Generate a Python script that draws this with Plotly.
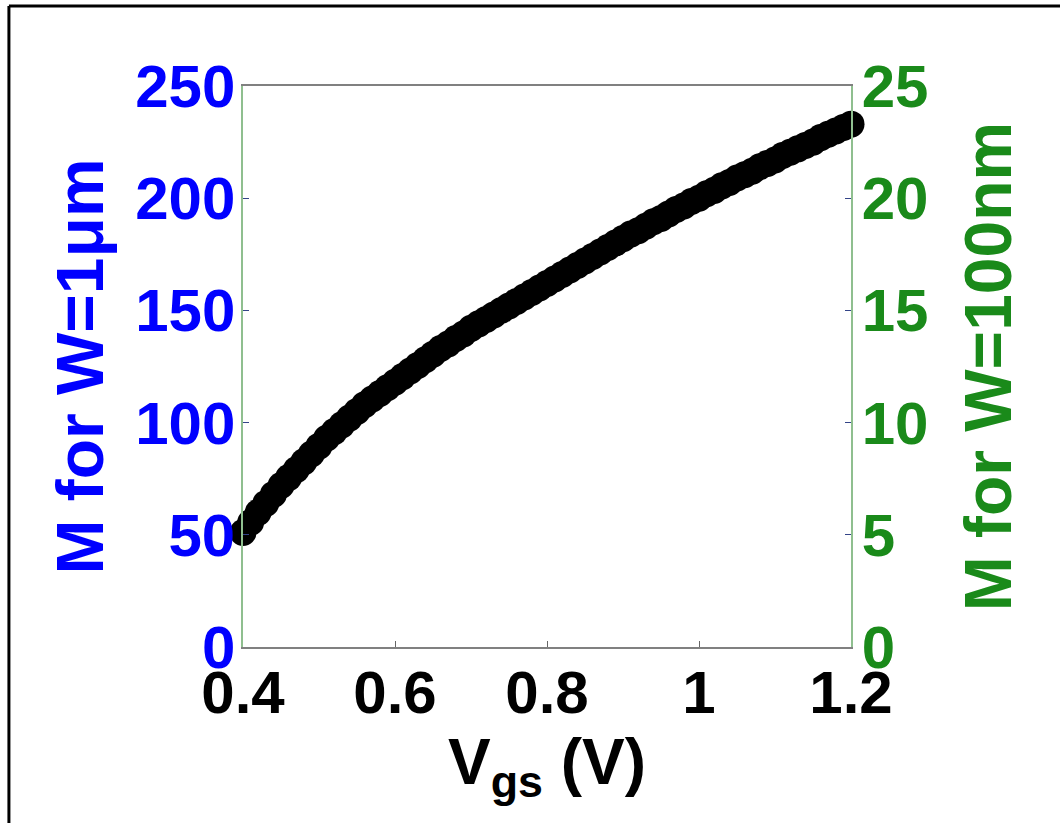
import plotly.graph_objects as go

# Gate voltage sweep (V), 0.40 ... 1.20 in 0.01 steps
vgs = [round(0.40 + 0.01 * i, 2) for i in range(81)]

# M for a 1 um wide device
m_1um = [51, 55.5, 60, 64, 68, 72, 75.5, 79, 82.5, 86,
         89.5, 93, 96, 99, 102, 105, 108, 110.5, 113, 115.5,
         118, 120.5, 123, 125.5, 128, 130.5, 133, 135, 137.5, 139.5,
         142, 144, 146, 148, 150, 152, 154, 156, 158, 160,
         162, 164, 166, 168, 170, 172, 174, 176, 178, 180,
         182, 184, 185.5, 187.5, 189.5, 191, 193, 195, 196.5, 198.5,
         200, 202, 203.5, 205.5, 207, 209, 210.5, 212, 214, 215.5,
         217, 219, 220.5, 222, 223.5, 225, 227, 228.5, 230, 231.5,
         233]

# M for a 100 nm wide device (same curve on the right-hand scale)
m_100nm = [v / 10 for v in m_1um]

x_ticks = [0.4, 0.6, 0.8, 1.0, 1.2]
x_tick_text = ["0.4", "0.6", "0.8", "1", "1.2"]
y_ticks = [0, 50, 100, 150, 200, 250]
y2_ticks = [0, 5, 10, 15, 20, 25]

BLUE = "#0000ff"
GREEN = "#1a8a1a"
FONT = "Liberation Sans, Arial, sans-serif"
TICK_SIZE = 60
TITLE_SIZE = 66

fig = go.Figure()
fig.add_trace(go.Scatter(
    x=vgs, y=m_1um, mode="markers",
    marker=dict(color="black", size=27, line=dict(width=0)),
    cliponaxis=False, showlegend=False,
))
fig.add_trace(go.Scatter(
    x=vgs, y=m_100nm, mode="markers", yaxis="y2",
    marker=dict(color="rgba(0,0,0,0)", size=1),
    hoverinfo="skip", showlegend=False,
))

fig.update_layout(
    width=1060, height=823,
    margin=dict(l=243, r=209, t=86, b=176),
    paper_bgcolor="white", plot_bgcolor="white",
    font=dict(family=FONT, size=TICK_SIZE, color="black", weight="bold"),
    xaxis=dict(
        range=[0.4, 1.2], tickvals=x_ticks, ticktext=x_tick_text,
        showgrid=False, zeroline=False,
        showline=True, linecolor="#808080", linewidth=1.5, mirror=True,
        ticks="inside", ticklen=6, tickcolor="#666666",
        ticklabelstandoff=-8,
        tickfont=dict(family=FONT, size=TICK_SIZE, color="black", weight="bold"),
        title=dict(text="V<sub>gs</sub> (V)", standoff=0,
                   font=dict(family=FONT, size=64, color="black", weight="bold")),
    ),
    yaxis=dict(
        range=[0, 250], tickvals=y_ticks,
        showgrid=False, zeroline=False,
        showline=True, linecolor="#8fbf8f", linewidth=1.5,
        ticks="inside", ticklen=6, tickcolor="#334488",
        ticklabelstandoff=-6,
        tickfont=dict(family=FONT, size=TICK_SIZE, color=BLUE, weight="bold"),
        title=dict(text="M for W=1μm", standoff=10,
                   font=dict(family=FONT, size=TITLE_SIZE, color=BLUE, weight="bold")),
    ),
    yaxis2=dict(
        range=[0, 25], tickvals=y2_ticks, overlaying="y", side="right",
        showgrid=False, zeroline=False,
        showline=True, linecolor="#8fbf8f", linewidth=1.5,
        ticks="inside", ticklen=6, tickcolor="#334488",
        ticklabelstandoff=-3,
        tickfont=dict(family=FONT, size=TICK_SIZE, color=GREEN, weight="bold"),
        title=dict(text="M for W=100nm", standoff=37,
                   font=dict(family=FONT, size=TITLE_SIZE, color=GREEN, weight="bold")),
    ),
    shapes=[
        # outer frame: top and left edges
        dict(type="line", xref="paper", yref="paper",
             x0=-0.385, x1=1.4, y0=1.1426, y1=1.1426,
             line=dict(color="black", width=3)),
        dict(type="line", xref="paper", yref="paper",
             x0=-0.385, x1=-0.385, y0=-0.4, y1=1.1426,
             line=dict(color="black", width=3)),
    ],
)

fig.write_html("out.html")
